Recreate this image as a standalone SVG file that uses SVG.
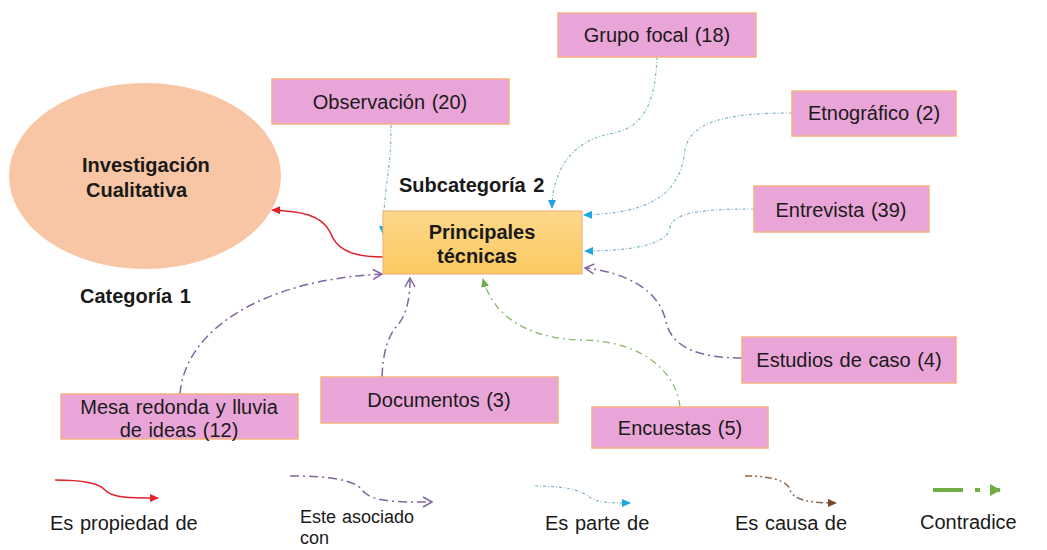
<svg xmlns="http://www.w3.org/2000/svg" width="1047" height="550" viewBox="0 0 1047 550">
<style>
text{font-family:"Liberation Sans",Arial,sans-serif;fill:#1a1a1a}
.n{font-size:20px;word-spacing:1px}
.s{font-size:18px;word-spacing:1px}
.b{font-size:20px;font-weight:bold;word-spacing:2px}
.box{fill:#eaa5d8;stroke:#f4b183;stroke-width:1.5}
.red{fill:none;stroke:#e0202a;stroke-width:1.5}
.blue{fill:none;stroke:#7fb6cc;stroke-width:1.2;stroke-dasharray:3,2,1,2}
.pur{fill:none;stroke:#8064a2;stroke-width:1.5;stroke-dasharray:9,4,2,4}
.grn{fill:none;stroke:#8cb86a;stroke-width:1.3;stroke-dasharray:7,4,2,4}
.brn{fill:none;stroke:#8b6a50;stroke-width:1.5;stroke-dasharray:7,3,2,3,2,3}
</style>
<defs>
<linearGradient id="yg" x1="0" y1="0" x2="0" y2="1"><stop offset="0" stop-color="#fdd88c"/><stop offset="1" stop-color="#fbc95f"/></linearGradient>
<marker id="mr" markerWidth="10" markerHeight="10" refX="8" refY="5" orient="auto" markerUnits="userSpaceOnUse"><path d="M0,1 L9,5 L0,9 Z" fill="#e0202a"/></marker>
<marker id="mb" markerWidth="10" markerHeight="10" refX="8" refY="5" orient="auto" markerUnits="userSpaceOnUse"><path d="M0,1 L9,5 L0,9 Z" fill="#1fa5e0"/></marker>
<marker id="mp" markerWidth="12" markerHeight="12" refX="10" refY="6" orient="auto" markerUnits="userSpaceOnUse"><path d="M1,1 L10,6 L1,11" fill="none" stroke="#8064a2" stroke-width="1.5"/></marker>
<marker id="mg" markerWidth="10" markerHeight="10" refX="8" refY="5" orient="auto" markerUnits="userSpaceOnUse"><path d="M0,1 L9,5 L0,9 Z" fill="#70ad47"/></marker>
<marker id="mn" markerWidth="10" markerHeight="10" refX="8" refY="5" orient="auto" markerUnits="userSpaceOnUse"><path d="M0,1 L9,5 L0,9 Z" fill="#7a4a26"/></marker>
<marker id="mg2" markerWidth="12" markerHeight="14" refX="10" refY="7" orient="auto" markerUnits="userSpaceOnUse"><path d="M0,1 L11,7 L0,13 Z" fill="#70ad47"/></marker>
</defs>

<g id="connectors">
<path class="red" d="M383,257 C345,257 335,245 330,232 C322,215 300,211 272,210" marker-end="url(#mr)"/>
<path class="blue" d="M391,125 C391,160 388,170 386,190 C384,210 383,222 383,234" marker-end="url(#mb)"/>
<path class="blue" d="M657,57 C655,110 640,128 610,134 C565,142 552,180 552,208" marker-end="url(#mb)"/>
<path class="blue" d="M792,113 C725,113 690,122 685,150 C680,195 650,213 584,215" marker-end="url(#mb)"/>
<path class="blue" d="M754,209 C700,209 672,213 670,228 C667,245 630,251 585,251" marker-end="url(#mb)"/>
<path class="pur" d="M742,358 C700,358 672,348 666,322 C660,290 625,272 585,268" marker-end="url(#mp)"/>
<path class="grn" d="M680,407 C676,370 640,340 580,340 C522,338 492,312 483,279" marker-end="url(#mg)"/>
<path class="pur" d="M382,377 C383,352 388,335 398,325 C408,312 410,295 410,278" marker-end="url(#mp)"/>
<path class="pur" d="M180,394 C185,330 262,280 382,274" marker-end="url(#mp)"/>
</g>

<g id="n-investigacion">
<ellipse cx="145" cy="176" rx="136" ry="93" fill="#f8c6a4"/>
<text class="b" x="82" y="172">Investigación</text>
<text class="b" x="86" y="197">Cualitativa</text>
</g>
<g id="n-categoria"><text class="b" x="80" y="303">Categoría 1</text></g>
<g id="n-subcategoria"><text class="b" x="399" y="192">Subcategoría 2</text></g>
<g id="n-principales">
<rect x="383" y="211" width="199" height="63" fill="url(#yg)" stroke="#f4b183" stroke-width="1.2"/>
<text class="b" x="482" y="239" text-anchor="middle">Principales</text>
<text class="b" x="477" y="263" text-anchor="middle">técnicas</text>
</g>
<g id="n-observacion">
<rect class="box" x="272" y="79" width="237" height="45"/>
<text class="n" x="390" y="109" text-anchor="middle">Observación (20)</text>
</g>
<g id="n-grupo">
<rect class="box" x="558" y="13" width="198" height="44"/>
<text class="n" x="657" y="42" text-anchor="middle">Grupo focal (18)</text>
</g>
<g id="n-etnografico">
<rect class="box" x="792" y="91" width="164" height="45"/>
<text class="n" x="874" y="120" text-anchor="middle">Etnográfico (2)</text>
</g>
<g id="n-entrevista">
<rect class="box" x="754" y="186" width="175" height="46"/>
<text class="n" x="841" y="217" text-anchor="middle">Entrevista (39)</text>
</g>
<g id="n-estudios">
<rect class="box" x="742" y="337" width="214" height="46"/>
<text class="n" x="849" y="367" text-anchor="middle">Estudios de caso (4)</text>
</g>
<g id="n-encuestas">
<rect class="box" x="592" y="407" width="176" height="41"/>
<text class="n" x="680" y="435" text-anchor="middle">Encuestas (5)</text>
</g>
<g id="n-documentos">
<rect class="box" x="321" y="377" width="237" height="46"/>
<text class="n" x="439" y="407" text-anchor="middle">Documentos (3)</text>
</g>
<g id="n-mesa">
<rect class="box" x="61" y="394" width="237" height="45"/>
<text class="n" x="179" y="414" text-anchor="middle">Mesa redonda y lluvia</text>
<text class="n" x="179" y="437" text-anchor="middle">de ideas (12)</text>
</g>

<g id="legend">
<path class="red" d="M55,480 C85,480 100,484 105,490 C112,498 130,498 158,498" marker-end="url(#mr)"/>
<text class="n" x="50" y="530">Es propiedad de</text>
<path class="pur" d="M290,476 C330,476 355,480 362,490 C372,503 400,502 432,502" marker-end="url(#mp)"/>
<text class="s" x="300" y="523">Este asociado</text>
<text class="s" x="300" y="544">con</text>
<path class="blue" d="M535,486 C565,486 580,490 588,496 C596,503 610,503 630,503" marker-end="url(#mb)"/>
<text class="n" x="545" y="530">Es parte de</text>
<path class="brn" d="M745,476 C775,476 788,482 790,490 C793,500 810,503 836,503" marker-end="url(#mn)"/>
<text class="n" x="735" y="530">Es causa de</text>
<path d="M933,490 L1000,490" fill="none" stroke="#70ad47" stroke-width="4" stroke-dasharray="30,12,5,12" marker-end="url(#mg2)"/>
<text class="n" x="920" y="529">Contradice</text>
</g>
</svg>
